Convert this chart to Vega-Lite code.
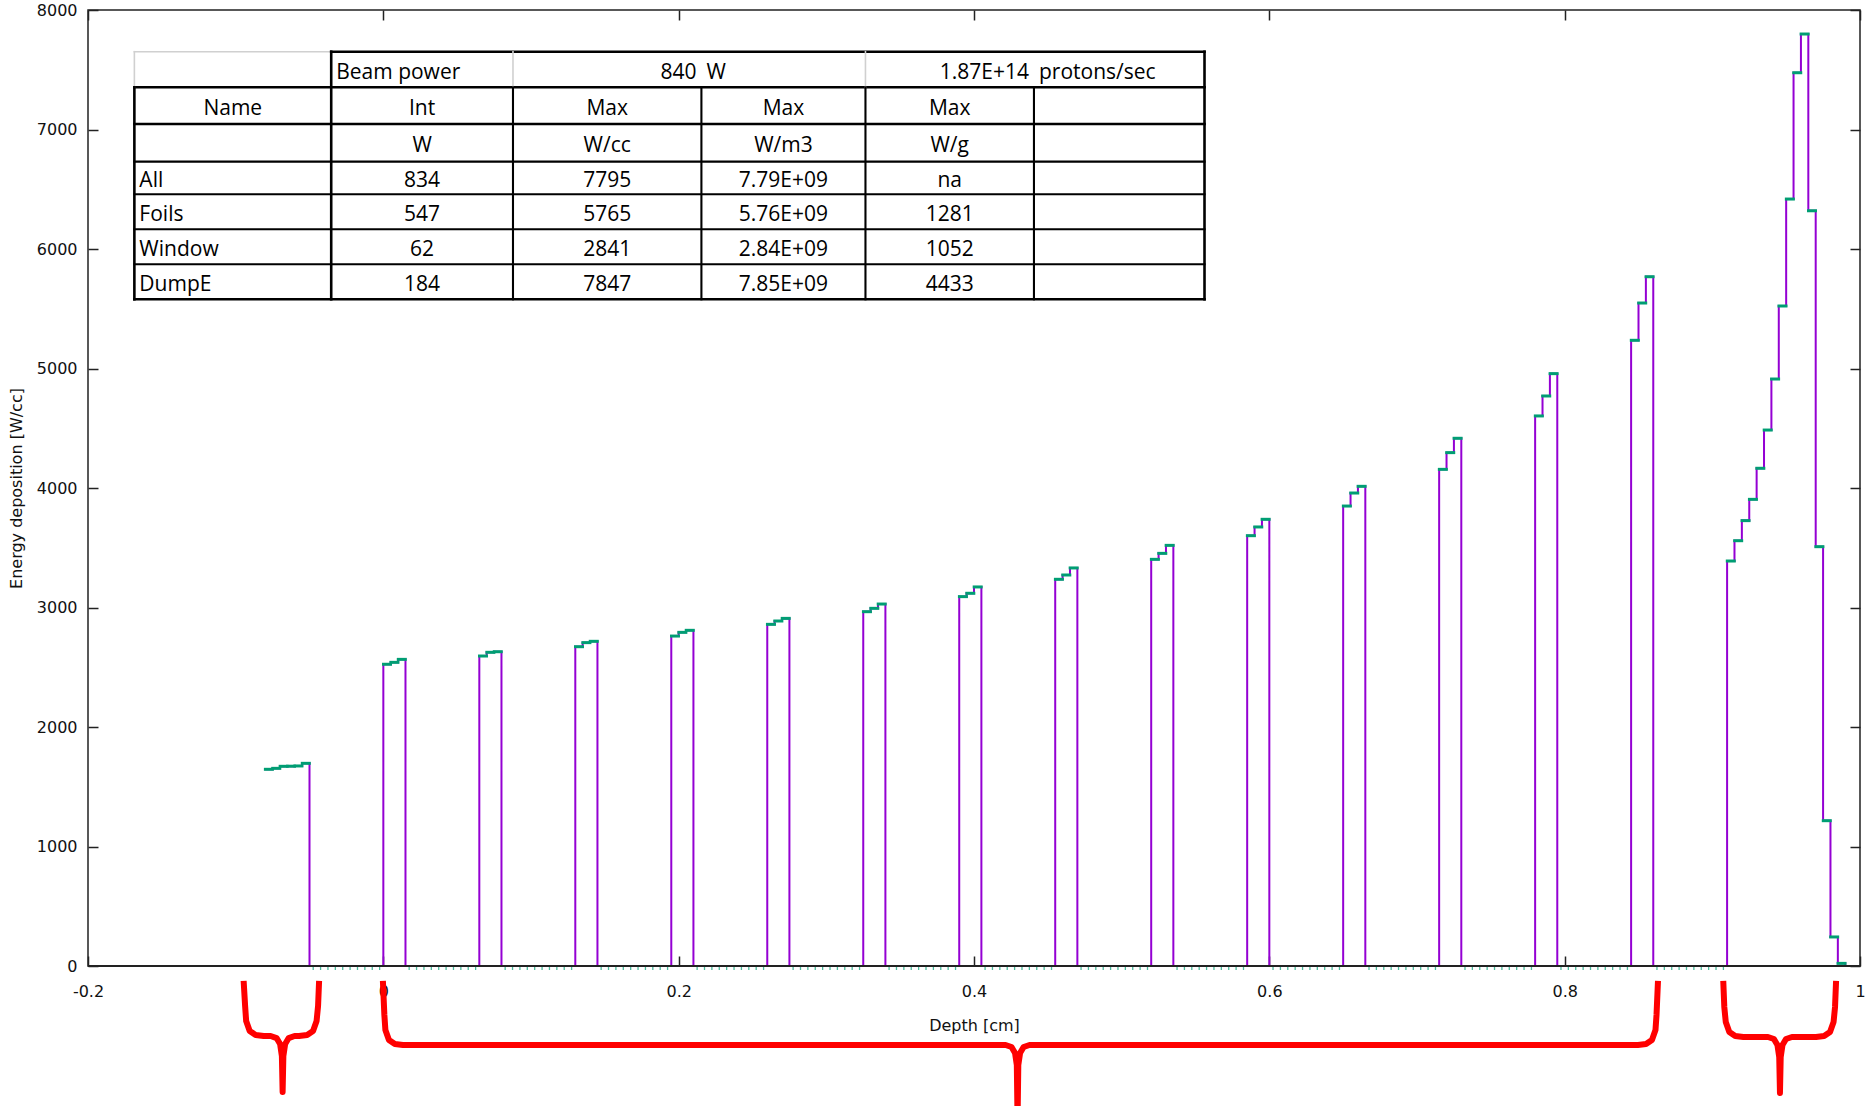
{
  "$schema": "https://vega.github.io/schema/vega-lite/v6.json",
  "width": 1772,
  "height": 956,
  "autosize": "none",
  "padding": {"left": 88, "top": 10, "right": 5, "bottom": 140},
  "background": "white",
  "datasets": {
    "bins": [
      {"x": -0.08, "v": 1646}, {"x": -0.075, "v": 1654}, {"x": -0.07, "v": 1671}, {"x": -0.065, "v": 1672}, {"x": -0.06, "v": 1674}, {"x": -0.055, "v": 1696},
      {"x": -0.05, "v": 0}, {"x": -0.045, "v": 0}, {"x": -0.04, "v": 0}, {"x": -0.035, "v": 0}, {"x": -0.03, "v": 0}, {"x": -0.025, "v": 0}, {"x": -0.02, "v": 0}, {"x": -0.015, "v": 0}, {"x": -0.01, "v": 0}, {"x": -0.005, "v": 0},
      {"x": 0, "v": 2525}, {"x": 0.005, "v": 2541}, {"x": 0.01, "v": 2566},
      {"x": 0.015, "v": 0}, {"x": 0.02, "v": 0}, {"x": 0.025, "v": 0}, {"x": 0.03, "v": 0}, {"x": 0.035, "v": 0}, {"x": 0.04, "v": 0}, {"x": 0.045, "v": 0}, {"x": 0.05, "v": 0}, {"x": 0.055, "v": 0}, {"x": 0.06, "v": 0},
      {"x": 0.065, "v": 2594}, {"x": 0.07, "v": 2625}, {"x": 0.075, "v": 2630},
      {"x": 0.08, "v": 0}, {"x": 0.085, "v": 0}, {"x": 0.09, "v": 0}, {"x": 0.095, "v": 0}, {"x": 0.1, "v": 0}, {"x": 0.105, "v": 0}, {"x": 0.11, "v": 0}, {"x": 0.115, "v": 0}, {"x": 0.12, "v": 0}, {"x": 0.125, "v": 0},
      {"x": 0.13, "v": 2672}, {"x": 0.135, "v": 2706}, {"x": 0.14, "v": 2717},
      {"x": 0.145, "v": 0}, {"x": 0.15, "v": 0}, {"x": 0.155, "v": 0}, {"x": 0.16, "v": 0}, {"x": 0.165, "v": 0}, {"x": 0.17, "v": 0}, {"x": 0.175, "v": 0}, {"x": 0.18, "v": 0}, {"x": 0.185, "v": 0}, {"x": 0.19, "v": 0},
      {"x": 0.195, "v": 2761}, {"x": 0.2, "v": 2792}, {"x": 0.205, "v": 2809},
      {"x": 0.21, "v": 0}, {"x": 0.215, "v": 0}, {"x": 0.22, "v": 0}, {"x": 0.225, "v": 0}, {"x": 0.23, "v": 0}, {"x": 0.235, "v": 0}, {"x": 0.24, "v": 0}, {"x": 0.245, "v": 0}, {"x": 0.25, "v": 0}, {"x": 0.255, "v": 0},
      {"x": 0.26, "v": 2859}, {"x": 0.265, "v": 2887}, {"x": 0.27, "v": 2909},
      {"x": 0.275, "v": 0}, {"x": 0.28, "v": 0}, {"x": 0.285, "v": 0}, {"x": 0.29, "v": 0}, {"x": 0.295, "v": 0}, {"x": 0.3, "v": 0}, {"x": 0.305, "v": 0}, {"x": 0.31, "v": 0}, {"x": 0.315, "v": 0}, {"x": 0.32, "v": 0},
      {"x": 0.325, "v": 2965}, {"x": 0.33, "v": 2993}, {"x": 0.335, "v": 3029},
      {"x": 0.34, "v": 0}, {"x": 0.345, "v": 0}, {"x": 0.35, "v": 0}, {"x": 0.355, "v": 0}, {"x": 0.36, "v": 0}, {"x": 0.365, "v": 0}, {"x": 0.37, "v": 0}, {"x": 0.375, "v": 0}, {"x": 0.38, "v": 0}, {"x": 0.385, "v": 0},
      {"x": 0.39, "v": 3091}, {"x": 0.395, "v": 3119}, {"x": 0.4, "v": 3172},
      {"x": 0.405, "v": 0}, {"x": 0.41, "v": 0}, {"x": 0.415, "v": 0}, {"x": 0.42, "v": 0}, {"x": 0.425, "v": 0}, {"x": 0.43, "v": 0}, {"x": 0.435, "v": 0}, {"x": 0.44, "v": 0}, {"x": 0.445, "v": 0}, {"x": 0.45, "v": 0},
      {"x": 0.455, "v": 3236}, {"x": 0.46, "v": 3272}, {"x": 0.465, "v": 3331},
      {"x": 0.47, "v": 0}, {"x": 0.475, "v": 0}, {"x": 0.48, "v": 0}, {"x": 0.485, "v": 0}, {"x": 0.49, "v": 0}, {"x": 0.495, "v": 0}, {"x": 0.5, "v": 0}, {"x": 0.505, "v": 0}, {"x": 0.51, "v": 0}, {"x": 0.515, "v": 0},
      {"x": 0.52, "v": 3403}, {"x": 0.525, "v": 3453}, {"x": 0.53, "v": 3520},
      {"x": 0.535, "v": 0}, {"x": 0.54, "v": 0}, {"x": 0.545, "v": 0}, {"x": 0.55, "v": 0}, {"x": 0.555, "v": 0}, {"x": 0.56, "v": 0}, {"x": 0.565, "v": 0}, {"x": 0.57, "v": 0}, {"x": 0.575, "v": 0}, {"x": 0.58, "v": 0},
      {"x": 0.585, "v": 3601}, {"x": 0.59, "v": 3674}, {"x": 0.595, "v": 3738},
      {"x": 0.6, "v": 0}, {"x": 0.605, "v": 0}, {"x": 0.61, "v": 0}, {"x": 0.615, "v": 0}, {"x": 0.62, "v": 0}, {"x": 0.625, "v": 0}, {"x": 0.63, "v": 0}, {"x": 0.635, "v": 0}, {"x": 0.64, "v": 0}, {"x": 0.645, "v": 0},
      {"x": 0.65, "v": 3849}, {"x": 0.655, "v": 3958}, {"x": 0.66, "v": 4014},
      {"x": 0.665, "v": 0}, {"x": 0.67, "v": 0}, {"x": 0.675, "v": 0}, {"x": 0.68, "v": 0}, {"x": 0.685, "v": 0}, {"x": 0.69, "v": 0}, {"x": 0.695, "v": 0}, {"x": 0.7, "v": 0}, {"x": 0.705, "v": 0}, {"x": 0.71, "v": 0},
      {"x": 0.715, "v": 4156}, {"x": 0.72, "v": 4296}, {"x": 0.725, "v": 4416},
      {"x": 0.73, "v": 0}, {"x": 0.735, "v": 0}, {"x": 0.74, "v": 0}, {"x": 0.745, "v": 0}, {"x": 0.75, "v": 0}, {"x": 0.755, "v": 0}, {"x": 0.76, "v": 0}, {"x": 0.765, "v": 0}, {"x": 0.77, "v": 0}, {"x": 0.775, "v": 0},
      {"x": 0.78, "v": 4603}, {"x": 0.785, "v": 4770}, {"x": 0.79, "v": 4957},
      {"x": 0.795, "v": 0}, {"x": 0.8, "v": 0}, {"x": 0.805, "v": 0}, {"x": 0.81, "v": 0}, {"x": 0.815, "v": 0}, {"x": 0.82, "v": 0}, {"x": 0.825, "v": 0}, {"x": 0.83, "v": 0}, {"x": 0.835, "v": 0}, {"x": 0.84, "v": 0},
      {"x": 0.845, "v": 5236}, {"x": 0.85, "v": 5548}, {"x": 0.855, "v": 5768},
      {"x": 0.86, "v": 0}, {"x": 0.865, "v": 0}, {"x": 0.87, "v": 0}, {"x": 0.875, "v": 0}, {"x": 0.88, "v": 0}, {"x": 0.885, "v": 0}, {"x": 0.89, "v": 0}, {"x": 0.895, "v": 0}, {"x": 0.9, "v": 0}, {"x": 0.905, "v": 0},
      {"x": 0.91, "v": 3389}, {"x": 0.915, "v": 3559}, {"x": 0.92, "v": 3727}, {"x": 0.925, "v": 3905}, {"x": 0.93, "v": 4165}, {"x": 0.935, "v": 4485}, {"x": 0.94, "v": 4912}, {"x": 0.945, "v": 5523},
      {"x": 0.95, "v": 6418}, {"x": 0.955, "v": 7475}, {"x": 0.96, "v": 7799}, {"x": 0.965, "v": 6320}, {"x": 0.97, "v": 3509}, {"x": 0.975, "v": 1216}, {"x": 0.98, "v": 243}, {"x": 0.985, "v": 22},
      {"x": 0.99, "v": 0}
    ],
    "grid": [
      {"x": -0.1686, "x2": -0.0353, "y": 7651, "y2": 7651, "k": "light"},
      {"x": -0.0353, "x2": 0.5561, "y": 7651, "y2": 7651, "k": "thick"},
      {"x": -0.1686, "x2": 0.5561, "y": 7353, "y2": 7353, "k": "thick"},
      {"x": -0.1686, "x2": 0.5561, "y": 7046, "y2": 7046, "k": "thick"},
      {"x": -0.1686, "x2": 0.5561, "y": 6731, "y2": 6731, "k": "thin"},
      {"x": -0.1686, "x2": 0.5561, "y": 6458, "y2": 6458, "k": "thin"},
      {"x": -0.1686, "x2": 0.5561, "y": 6165, "y2": 6165, "k": "thin"},
      {"x": -0.1686, "x2": 0.5561, "y": 5872, "y2": 5872, "k": "thin"},
      {"x": -0.1686, "x2": 0.5561, "y": 5579, "y2": 5579, "k": "thick"},
      {"x": -0.1686, "x2": -0.1686, "y": 7651, "y2": 7353, "k": "light"},
      {"x": -0.1686, "x2": -0.1686, "y": 7353, "y2": 5579, "k": "thick"},
      {"x": -0.0353, "x2": -0.0353, "y": 7651, "y2": 5579, "k": "thick"},
      {"x": 0.0878, "x2": 0.0878, "y": 7651, "y2": 7353, "k": "light"},
      {"x": 0.0878, "x2": 0.0878, "y": 7353, "y2": 5579, "k": "thin"},
      {"x": 0.2154, "x2": 0.2154, "y": 7353, "y2": 5579, "k": "thin"},
      {"x": 0.3265, "x2": 0.3265, "y": 7651, "y2": 7353, "k": "light"},
      {"x": 0.3265, "x2": 0.3265, "y": 7353, "y2": 5579, "k": "thin"},
      {"x": 0.4406, "x2": 0.4406, "y": 7353, "y2": 5579, "k": "thin"},
      {"x": 0.5561, "x2": 0.5561, "y": 7651, "y2": 5579, "k": "thick"}
    ],
    "cells": [
      {"t": "Beam power", "x": -0.0353, "y": 7502, "p": "l"},
      {"t": "840", "x": 0.2154, "y": 7502, "p": "r"},
      {"t": "W", "x": 0.2154, "y": 7502, "p": "l"},
      {"t": "1.87E+14", "x": 0.4406, "y": 7502, "p": "r"},
      {"t": "protons/sec", "x": 0.4406, "y": 7502, "p": "l"},
      {"t": "Name", "x": -0.10195, "y": 7200, "p": "c"},
      {"t": "Int", "x": 0.02625, "y": 7200, "p": "c"},
      {"t": "Max", "x": 0.1516, "y": 7200, "p": "c"},
      {"t": "Max", "x": 0.27095, "y": 7200, "p": "c"},
      {"t": "Max", "x": 0.38355, "y": 7200, "p": "c"},
      {"t": "W", "x": 0.02625, "y": 6888, "p": "c"},
      {"t": "W/cc", "x": 0.1516, "y": 6888, "p": "c"},
      {"t": "W/m3", "x": 0.27095, "y": 6888, "p": "c"},
      {"t": "W/g", "x": 0.38355, "y": 6888, "p": "c"},
      {"t": "All", "x": -0.1686, "y": 6594, "p": "l"},
      {"t": "834", "x": 0.02625, "y": 6594, "p": "c"},
      {"t": "7795", "x": 0.1516, "y": 6594, "p": "c"},
      {"t": "7.79E+09", "x": 0.27095, "y": 6594, "p": "c"},
      {"t": "na", "x": 0.38355, "y": 6594, "p": "c"},
      {"t": "Foils", "x": -0.1686, "y": 6311, "p": "l"},
      {"t": "547", "x": 0.02625, "y": 6311, "p": "c"},
      {"t": "5765", "x": 0.1516, "y": 6311, "p": "c"},
      {"t": "5.76E+09", "x": 0.27095, "y": 6311, "p": "c"},
      {"t": "1281", "x": 0.38355, "y": 6311, "p": "c"},
      {"t": "Window", "x": -0.1686, "y": 6018, "p": "l"},
      {"t": "62", "x": 0.02625, "y": 6018, "p": "c"},
      {"t": "2841", "x": 0.1516, "y": 6018, "p": "c"},
      {"t": "2.84E+09", "x": 0.27095, "y": 6018, "p": "c"},
      {"t": "1052", "x": 0.38355, "y": 6018, "p": "c"},
      {"t": "DumpE", "x": -0.1686, "y": 5726, "p": "l"},
      {"t": "184", "x": 0.02625, "y": 5726, "p": "c"},
      {"t": "7847", "x": 0.1516, "y": 5726, "p": "c"},
      {"t": "7.85E+09", "x": 0.27095, "y": 5726, "p": "c"},
      {"t": "4433", "x": 0.38355, "y": 5726, "p": "c"}
    ],
    "braces": [
      {"b": "L", "i": 1, "x": -0.0946, "y": -125}, {"b": "L", "i": 2, "x": -0.0936, "y": -335}, {"b": "L", "i": 3, "x": -0.0929, "y": -460}, {"b": "L", "i": 4, "x": -0.0905, "y": -544}, {"b": "L", "i": 5, "x": -0.0865, "y": -577}, {"b": "L", "i": 6, "x": -0.081, "y": -586}, {"b": "L", "i": 7, "x": -0.0763, "y": -586}, {"b": "L", "i": 8, "x": -0.0723, "y": -603}, {"b": "L", "i": 9, "x": -0.0699, "y": -653}, {"b": "L", "i": 10, "x": -0.0687, "y": -753}, {"b": "L", "i": 11, "x": -0.0682, "y": -1054}, {"b": "L", "i": 12, "x": -0.0677, "y": -753}, {"b": "L", "i": 13, "x": -0.0665, "y": -653}, {"b": "L", "i": 14, "x": -0.0641, "y": -603}, {"b": "L", "i": 15, "x": -0.0601, "y": -586}, {"b": "L", "i": 16, "x": -0.0571, "y": -586}, {"b": "L", "i": 17, "x": -0.0516, "y": -577}, {"b": "L", "i": 18, "x": -0.0476, "y": -544}, {"b": "L", "i": 19, "x": -0.0452, "y": -460}, {"b": "L", "i": 20, "x": -0.0442, "y": -335}, {"b": "L", "i": 21, "x": -0.0435, "y": -125},
      {"b": "M", "i": 1, "x": -0.0003, "y": -125}, {"b": "M", "i": 2, "x": 0.0007, "y": -410}, {"b": "M", "i": 3, "x": 0.0014, "y": -536}, {"b": "M", "i": 4, "x": 0.0038, "y": -619}, {"b": "M", "i": 5, "x": 0.0078, "y": -653}, {"b": "M", "i": 6, "x": 0.0133, "y": -661}, {"b": "M", "i": 7, "x": 0.4214, "y": -661}, {"b": "M", "i": 8, "x": 0.4254, "y": -678}, {"b": "M", "i": 9, "x": 0.4278, "y": -728}, {"b": "M", "i": 10, "x": 0.429, "y": -828}, {"b": "M", "i": 11, "x": 0.4295, "y": -1300}, {"b": "M", "i": 12, "x": 0.43, "y": -828}, {"b": "M", "i": 13, "x": 0.4312, "y": -728}, {"b": "M", "i": 14, "x": 0.4336, "y": -678}, {"b": "M", "i": 15, "x": 0.4376, "y": -661}, {"b": "M", "i": 16, "x": 0.8496, "y": -661}, {"b": "M", "i": 17, "x": 0.8551, "y": -653}, {"b": "M", "i": 18, "x": 0.8591, "y": -619}, {"b": "M", "i": 19, "x": 0.8615, "y": -536}, {"b": "M", "i": 20, "x": 0.8622, "y": -410}, {"b": "M", "i": 21, "x": 0.8632, "y": -125},
      {"b": "R", "i": 1, "x": 0.9074, "y": -125}, {"b": "R", "i": 2, "x": 0.9081, "y": -343}, {"b": "R", "i": 3, "x": 0.9091, "y": -469}, {"b": "R", "i": 4, "x": 0.9115, "y": -552}, {"b": "R", "i": 5, "x": 0.9155, "y": -586}, {"b": "R", "i": 6, "x": 0.921, "y": -594}, {"b": "R", "i": 7, "x": 0.9377, "y": -594}, {"b": "R", "i": 8, "x": 0.9417, "y": -611}, {"b": "R", "i": 9, "x": 0.9441, "y": -661}, {"b": "R", "i": 10, "x": 0.9453, "y": -762}, {"b": "R", "i": 11, "x": 0.9458, "y": -1063}, {"b": "R", "i": 12, "x": 0.9463, "y": -762}, {"b": "R", "i": 13, "x": 0.9475, "y": -661}, {"b": "R", "i": 14, "x": 0.9499, "y": -611}, {"b": "R", "i": 15, "x": 0.9539, "y": -594}, {"b": "R", "i": 16, "x": 0.9702, "y": -594}, {"b": "R", "i": 17, "x": 0.9757, "y": -586}, {"b": "R", "i": 18, "x": 0.9797, "y": -552}, {"b": "R", "i": 19, "x": 0.9821, "y": -469}, {"b": "R", "i": 20, "x": 0.9831, "y": -343}, {"b": "R", "i": 21, "x": 0.9838, "y": -125}
    ]
  },
  "resolve": {"axis": {"x": "independent", "y": "independent"}},
  "layer": [
    {
      "data": {"name": "bins"},
      "mark": {"type": "line", "interpolate": "step-after", "color": "#9400d3", "strokeWidth": 2},
      "encoding": {
        "x": {"field": "x", "type": "quantitative", "scale": {"domain": [-0.2, 1], "nice": false, "zero": false},
          "axis": {"orient": "bottom", "ticks": false, "domain": false, "grid": false, "labelPadding": 17, "labelFlush": false, "labelOverlap": false, "format": "~g", "labelExpr": "replace(datum.label, '\u2212', '-')", "values": [-0.2, 0, 0.2, 0.4, 0.6, 0.8, 1], "title": "Depth [cm]", "titlePadding": 18}},
        "y": {"field": "v", "type": "quantitative", "scale": {"domain": [0, 8000], "nice": false},
          "axis": {"orient": "left", "ticks": false, "domain": false, "grid": false, "labelPadding": 11, "labelFlush": false, "labelOverlap": false, "format": "d", "values": [0, 1000, 2000, 3000, 4000, 5000, 6000, 7000, 8000], "title": "Energy deposition [W/cc]", "titlePadding": 12}}
      }
    },
    {
      "data": {"values": [{}]},
      "mark": {"type": "rule", "color": "#222222", "strokeWidth": 2},
      "encoding": {
        "y": {"datum": 0, "type": "quantitative", "axis": null}
      }
    },
    {
      "data": {"name": "bins"},
      "transform": [{"filter": "datum.v > 0"}],
      "mark": {"type": "tick", "orient": "horizontal", "size": 10, "thickness": 3, "color": "#009e73", "xOffset": 3.69, "opacity": 1},
      "encoding": {
        "x": {"field": "x", "type": "quantitative",
          "axis": {"orient": "bottom", "offset": -10, "tickSize": 10, "tickWidth": 1.5, "tickColor": "#222", "labels": false, "domain": false, "grid": false, "title": null, "values": [-0.2, 0, 0.2, 0.4, 0.6, 0.8, 1]}},
        "y": {"field": "v", "type": "quantitative",
          "axis": {"orient": "left", "offset": -10, "tickSize": 10, "tickWidth": 1.5, "tickColor": "#222", "labels": false, "domain": false, "grid": false, "title": null, "values": [0, 1000, 2000, 3000, 4000, 5000, 6000, 7000, 8000]}}
      }
    },
    {
      "data": {"name": "bins"},
      "transform": [{"filter": "datum.v == 0 && datum.x < 0.99"}],
      "mark": {"type": "tick", "orient": "vertical", "size": 3, "thickness": 1.3, "color": "#009e73", "xOffset": 3.69, "yOffset": 2.5},
      "encoding": {
        "x": {"field": "x", "type": "quantitative",
          "axis": {"orient": "top", "offset": -10, "tickSize": 10, "tickWidth": 1.5, "tickColor": "#222", "labels": false, "domain": false, "grid": false, "title": null, "values": [-0.2, 0, 0.2, 0.4, 0.6, 0.8, 1]}},
        "y": {"field": "v", "type": "quantitative",
          "axis": {"orient": "right", "offset": -10, "tickSize": 10, "tickWidth": 1.5, "tickColor": "#222", "labels": false, "domain": false, "grid": false, "title": null, "values": [0, 1000, 2000, 3000, 4000, 5000, 6000, 7000, 8000]}}
      }
    },
    {
      "data": {"name": "grid"},
      "mark": {"type": "rule", "strokeCap": "square"},
      "encoding": {
        "x": {"field": "x", "type": "quantitative", "axis": null},
        "x2": {"field": "x2"},
        "y": {"field": "y", "type": "quantitative", "axis": null},
        "y2": {"field": "y2"},
        "strokeWidth": {"field": "k", "type": "nominal", "scale": {"domain": ["thick", "thin", "light"], "range": [2.6, 1.6, 1.3]}, "legend": null},
        "color": {"field": "k", "type": "nominal", "scale": {"domain": ["thick", "thin", "light"], "range": ["#000000", "#000000", "#d0d0d0"]}, "legend": null}
      }
    },
    {
      "data": {"name": "cells"},
      "transform": [{"filter": "datum.p == 'l'"}],
      "mark": {"type": "text", "align": "left", "baseline": "middle", "dx": 5, "dy": 3, "font": "Open Sans", "fontSize": 21, "color": "#000000"},
      "encoding": {
        "x": {"field": "x", "type": "quantitative", "axis": null},
        "y": {"field": "y", "type": "quantitative", "axis": null},
        "text": {"field": "t"}
      }
    },
    {
      "data": {"name": "cells"},
      "transform": [{"filter": "datum.p == 'c'"}],
      "mark": {"type": "text", "align": "center", "baseline": "middle", "dy": 3, "font": "Open Sans", "fontSize": 21, "color": "#000000"},
      "encoding": {
        "x": {"field": "x", "type": "quantitative", "axis": null},
        "y": {"field": "y", "type": "quantitative", "axis": null},
        "text": {"field": "t"}
      }
    },
    {
      "data": {"name": "cells"},
      "transform": [{"filter": "datum.p == 'r'"}],
      "mark": {"type": "text", "align": "right", "baseline": "middle", "dx": -5, "dy": 3, "font": "Open Sans", "fontSize": 21, "color": "#000000"},
      "encoding": {
        "x": {"field": "x", "type": "quantitative", "axis": null},
        "y": {"field": "y", "type": "quantitative", "axis": null},
        "text": {"field": "t"}
      }
    },
    {
      "data": {"name": "braces"},
      "mark": {"type": "line", "color": "#ff0000", "strokeWidth": 6, "strokeJoin": "round", "clip": false},
      "encoding": {
        "x": {"field": "x", "type": "quantitative", "axis": null},
        "y": {"field": "y", "type": "quantitative", "axis": null},
        "detail": {"field": "b"},
        "order": {"field": "i", "type": "quantitative"}
      }
    }
  ],
  "config": {
    "view": {"stroke": "#222222", "strokeWidth": 1.5},
    "axis": {"labelFont": "DejaVu Sans", "labelFontSize": 16, "labelColor": "#111111", "titleFont": "DejaVu Sans", "titleFontSize": 16, "titleFontWeight": "normal", "titleColor": "#111111"}
  }
}
